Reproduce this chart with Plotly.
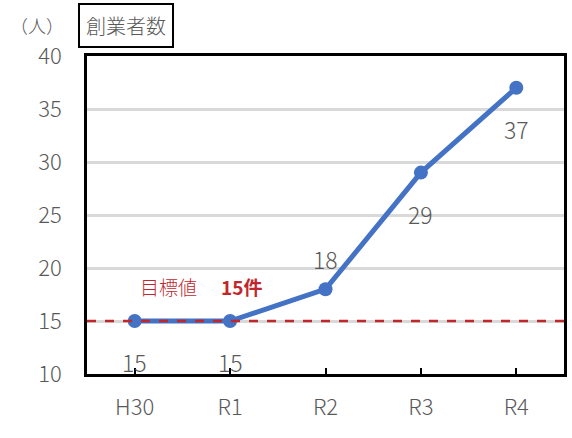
import plotly.graph_objects as go

years = ["H30", "R1", "R2", "R3", "R4"]
founders = [15, 15, 18, 29, 37]
target = 15
y_ticks = [10, 15, 20, 25, 30, 35, 40]
# vertical offset (px) of each value label from its point
label_shift = [-41, -41, 30, -41, -41]

font_family = "Noto Sans CJK JP"
gray = "#595959"
red = "#C0272D"

fig = go.Figure()

# target line
fig.add_trace(go.Scatter(
    x=[-0.5, 4.5], y=[target, target], mode="lines",
    line=dict(color=red, width=2.5, dash="dash"),
    hoverinfo="skip", showlegend=False, xaxis="x2",
))

fig.add_trace(go.Scatter(
    x=years, y=founders, mode="lines+markers",
    line=dict(color="#4472C4", width=5),
    marker=dict(color="#4472C4", size=14),
    showlegend=False,
))

annotations = [
    dict(xref="paper", yref="paper", x=(8 - 87) / 480, y=1.0, xanchor="left", yanchor="bottom",
         text="（人）", showarrow=False, font=dict(size=18, color=gray, weight=300), yshift=16),
    dict(xref="paper", yref="paper", x=(78 - 87) / 480, y=1.0, xanchor="left", yanchor="bottom",
         text="創業者数", showarrow=False, font=dict(size=20, color=gray, weight=300),
         bordercolor="black", borderwidth=2, borderpad=6, bgcolor="white", yshift=8),
    dict(xref="x2", yref="y", x=0.35, y=target, yshift=35, xanchor="center",
         text="目標値", showarrow=False, font=dict(size=19, color=red, weight=300)),
    dict(xref="x2", yref="y", x=1.12, y=target, yshift=35, xanchor="center",
         text="<b>15件</b>", showarrow=False, font=dict(size=19, color=red)),
]
for yr, v, s in zip(years, founders, label_shift):
    annotations.append(dict(
        x=yr, y=v, yshift=s, text=str(v), showarrow=False,
        font=dict(size=23, color=gray, weight=300),
    ))

fig.update_layout(
    width=572, height=438,
    margin=dict(l=87, r=5, t=56, b=64),
    plot_bgcolor="white", paper_bgcolor="white",
    font=dict(family=font_family, color=gray),
    xaxis=dict(
        type="category", range=[-0.5, 4.5],
        showgrid=False, showline=True, linecolor="black", linewidth=2.5,
        mirror=True, ticks="inside", ticklen=6, tickwidth=2, tickcolor="black",
        tickfont=dict(size=22, color=gray, weight=300), ticklabelstandoff=12,
    ),
    xaxis2=dict(overlaying="x", range=[-0.5, 4.5], visible=False),
    yaxis=dict(
        range=[10, 40], tickvals=y_ticks,
        showgrid=True, gridcolor="#D9D9D9", gridwidth=2.5,
        showline=True, linecolor="black", linewidth=2.5, mirror=True,
        ticks="", tickfont=dict(size=22, color=gray, weight=300), ticklabelstandoff=18,
        zeroline=False,
    ),
    annotations=annotations,
)

fig.write_html("out.html")
